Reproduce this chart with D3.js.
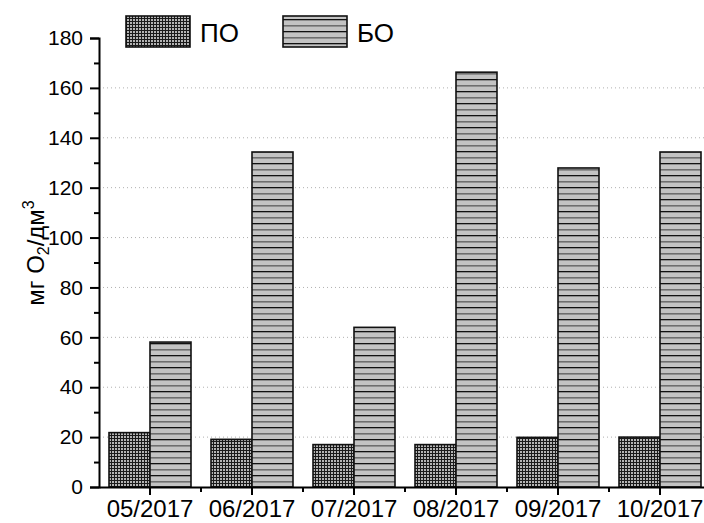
<!DOCTYPE html>
<html><head><meta charset="utf-8">
<script src="https://cdn.jsdelivr.net/npm/d3@7/dist/d3.min.js"></script>
<style>body{margin:0;background:#fff}svg{display:block;font-family:"Liberation Sans",Arial,sans-serif}</style>
</head><body><svg id="c" width="704" height="523"></svg>
<script>
const categories = ["05/2017","06/2017","07/2017","08/2017","09/2017","10/2017"];
const seriesNames = ["ПО","БО"];
const valuesPO = [21.8, 19.1, 17.0, 17.0, 19.9, 20.0];
const valuesBO = [58.1, 134.3, 64.0, 166.3, 127.9, 134.3];
const yTicks = [0,20,40,60,80,100,120,140,160,180];
const yMinorTicks = [10,30,50,70,90,110,130,150,170];

const svg = d3.select("#c");
const mLeft = 99, mRight = 711, mTop = 38, mBottom = 487;

const defs = svg.append("defs");
const p1 = defs.append("pattern").attr("id","pPO").attr("patternUnits","userSpaceOnUse").attr("width",3).attr("height",3);
p1.append("rect").attr("width",3).attr("height",3).attr("fill","#1a1a1a");
p1.append("rect").attr("x",1).attr("y",1).attr("width",2).attr("height",2).attr("fill","#b4b4b4");
const p2 = defs.append("pattern").attr("id","pBO").attr("patternUnits","userSpaceOnUse").attr("width",8).attr("height",12).attr("y",mBottom);
p2.append("rect").attr("width",8).attr("height",12).attr("fill","#c3c3c3");
p2.append("rect").attr("y",0).attr("width",8).attr("height",1.3).attr("fill","#111");
p2.append("rect").attr("y",6).attr("width",8).attr("height",1.6).attr("fill","#6e6e6e");
const fills = {"ПО":"url(#pPO)","БО":"url(#pBO)"};

const x0 = d3.scaleBand().domain(categories).range([mLeft, mRight]).padding(0);
const x1 = d3.scaleBand().domain(seriesNames).range([0, x0.bandwidth()]).paddingInner(0).paddingOuter(0.244);
const y = d3.scaleLinear().domain([0,180]).range([mBottom, mTop]);

// grid
svg.append("g").selectAll("line").data(yTicks.filter(d=>d>0 && d<180)).join("line")
  .attr("x1",mLeft).attr("x2",704).attr("y1",d=>y(d)).attr("y2",d=>y(d))
  .attr("stroke","#b0b0b0").attr("stroke-width",1).attr("stroke-dasharray","1,3");

// bars
const data = categories.map((c,i)=>({c, vals:[{k:"ПО",v:valuesPO[i]},{k:"БО",v:valuesBO[i]}]}));
svg.append("g").selectAll("g").data(data).join("g")
  .attr("transform",d=>`translate(${x0(d.c)},0)`)
  .selectAll("rect").data(d=>d.vals).join("rect")
  .attr("x",d=>x1(d.k)).attr("width",x1.bandwidth())
  .attr("y",d=>y(d.v)).attr("height",d=>y(0)-y(d.v))
  .attr("fill",d=>fills[d.k]).attr("stroke","#111").attr("stroke-width",1.6);

// y axis
const ya = svg.append("g").attr("transform",`translate(${mLeft},0)`)
  .call(d3.axisLeft(y).tickValues(yTicks).tickSize(9).tickPadding(7).tickFormat(d3.format("d")));
svg.append("g").attr("transform",`translate(${mLeft},0)`)
  .call(d3.axisLeft(y).tickValues(yMinorTicks).tickSize(5).tickFormat(""))
  .select(".domain").remove();

// x axis
const xa = svg.append("g").attr("transform",`translate(0,${mBottom})`)
  .call(d3.axisBottom(x0).tickSize(8).tickPadding(5).tickSizeOuter(0));
svg.append("g").attr("transform",`translate(0,${mBottom})`).selectAll("line")
  .data(categories.slice(1)).join("line")
  .attr("x1",d=>x0(d)).attr("x2",d=>x0(d)).attr("y1",0).attr("y2",5)
  .attr("stroke","#000").attr("stroke-width",2);

svg.selectAll(".domain").attr("stroke","#000").attr("stroke-width",2);
svg.selectAll(".tick line").attr("stroke","#000").attr("stroke-width",2);
ya.selectAll("text").attr("font-size",21).attr("fill","#000").attr("font-family","Liberation Sans, Arial, sans-serif");
xa.selectAll("text").attr("font-size",24).attr("fill","#000").attr("font-family","Liberation Sans, Arial, sans-serif");

// y label
const yl = svg.append("text").attr("transform","translate(44,253) rotate(-90)")
  .attr("text-anchor","middle").attr("font-size",24).attr("fill","#000");
yl.append("tspan").text("мг O");
yl.append("tspan").attr("font-size",16).attr("dy",5).text("2");
yl.append("tspan").attr("dy",-5).text("/дм");
yl.append("tspan").attr("font-size",16).attr("dy",-10).text("3");

// legend
const legX = [126, 283];
const lg = svg.append("g");
seriesNames.forEach((s,i)=>{
  lg.append("rect").attr("x",legX[i]).attr("y",16).attr("width",64).attr("height",31)
    .attr("fill",fills[s]).attr("stroke","#111").attr("stroke-width",1.6);
  lg.append("text").attr("x",legX[i]+74).attr("y",42).attr("font-size",26).attr("fill","#000").text(s);
});
</script></body></html>
